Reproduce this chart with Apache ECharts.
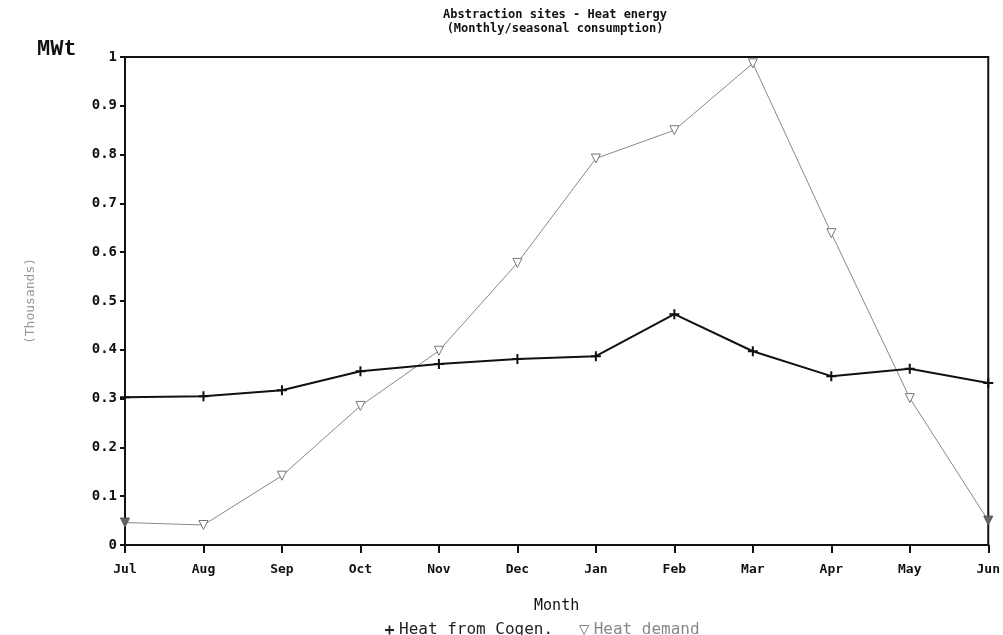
<!DOCTYPE html>
<html>
<head>
<meta charset="utf-8">
<script src="https://cdn.jsdelivr.net/npm/echarts@6/dist/echarts.min.js"></script>
<style>
  html, body { margin: 0; padding: 0; background: #fff; }
  #chart { width: 1003px; height: 635px; }
</style>
</head>
<body>
<div id="chart"></div>
<script>
var months = ['Jul', 'Aug', 'Sep', 'Oct', 'Nov', 'Dec', 'Jan', 'Feb', 'Mar', 'Apr', 'May', 'Jun'];
var cogenHeat = [0.303, 0.305, 0.317, 0.356, 0.371, 0.381, 0.387, 0.473, 0.397, 0.346, 0.361, 0.332];
var heatDemand = [0.046, 0.041, 0.142, 0.285, 0.398, 0.578, 0.792, 0.850, 0.987, 0.639, 0.301, 0.050];

var font = 'DejaVu Sans Mono';
var plusPath = 'path://M4,0 L6,0 L6,4 L10,4 L10,6 L6,6 L6,10 L4,10 L4,6 L0,6 L0,4 L4,4 Z';
var triDownPath = 'path://M0,0 L10,0 L5,10 Z';

// first and last demand markers look filled in the original print
var demandData = heatDemand.map(function (v, i) {
    if (i === 0 || i === heatDemand.length - 1) {
        return { value: v, itemStyle: { color: '#666', borderColor: '#555' } };
    }
    return v;
});

var chart = echarts.init(document.getElementById('chart'));

var option = {
    animation: false,
    backgroundColor: '#ffffff',
    title: {
        text: 'Abstraction sites - Heat energy\n(Monthly/seasonal consumption)',
        left: 550,
        textAlign: 'center',
        top: 3,
        textStyle: { fontFamily: font, fontSize: 12, fontWeight: 'bold', color: '#111', lineHeight: 14 }
    },
    graphic: [
        {
            type: 'text',
            left: 37,
            top: 38,
            style: { text: 'MWt', font: 'bold 22px "Liberation Mono"', fill: '#111' }
        }
    ],
    legend: {
        left: 380,
        top: 617,
        itemGap: 26,
        itemWidth: 9,
        itemHeight: 9,
        textStyle: { fontFamily: font, fontSize: 16 },
        data: [
            { name: 'Heat from Cogen.', icon: plusPath, itemStyle: { color: '#222' }, textStyle: { color: '#222' } },
            { name: 'Heat demand', icon: triDownPath, itemStyle: { color: '#fff', borderColor: '#888', borderWidth: 1 }, textStyle: { color: '#888' } }
        ]
    },
    grid: { left: 125, right: 13, top: 57, bottom: 90, show: true, borderColor: '#111', borderWidth: 2, backgroundColor: 'transparent' },
    xAxis: {
        type: 'category',
        data: months,
        boundaryGap: false,
        name: 'Month',
        nameLocation: 'middle',
        nameGap: 54,
        nameTextStyle: { fontFamily: font, fontSize: 15, color: '#111' },
        axisLine: { lineStyle: { color: '#111', width: 2 } },
        axisTick: { show: true, length: 8, lineStyle: { color: '#111', width: 2 } },
        axisLabel: { fontFamily: font, fontSize: 13, fontWeight: 'bold', color: '#111', margin: 18 }
    },
    yAxis: {
        type: 'value',
        min: 0,
        max: 1,
        interval: 0.1,
        name: '(Thousands)',
        nameLocation: 'middle',
        nameRotate: 90,
        nameGap: 88,
        nameTextStyle: { fontFamily: font, fontSize: 13, color: '#999' },
        axisLine: { show: true, lineStyle: { color: '#111', width: 2 } },
        axisTick: { show: true, length: 5, lineStyle: { color: '#111', width: 2 } },
        splitLine: { show: false },
        axisLabel: { fontFamily: font, fontSize: 14, fontWeight: 'bold', color: '#111', margin: 8 }
    },
    series: [
        {
            name: 'Heat from Cogen.',
            type: 'line',
            data: cogenHeat,
            symbol: plusPath,
            symbolSize: 10,
            itemStyle: { color: '#111' },
            lineStyle: { color: '#111', width: 2 },
            z: 3
        },
        {
            name: 'Heat demand',
            type: 'line',
            data: demandData,
            symbol: triDownPath,
            symbolSize: 9,
            itemStyle: { color: '#fff', borderColor: '#777', borderWidth: 1 },
            lineStyle: { color: '#888', width: 1 },
            z: 2
        }
    ]
};

chart.setOption(option);
</script>
</body>
</html>
